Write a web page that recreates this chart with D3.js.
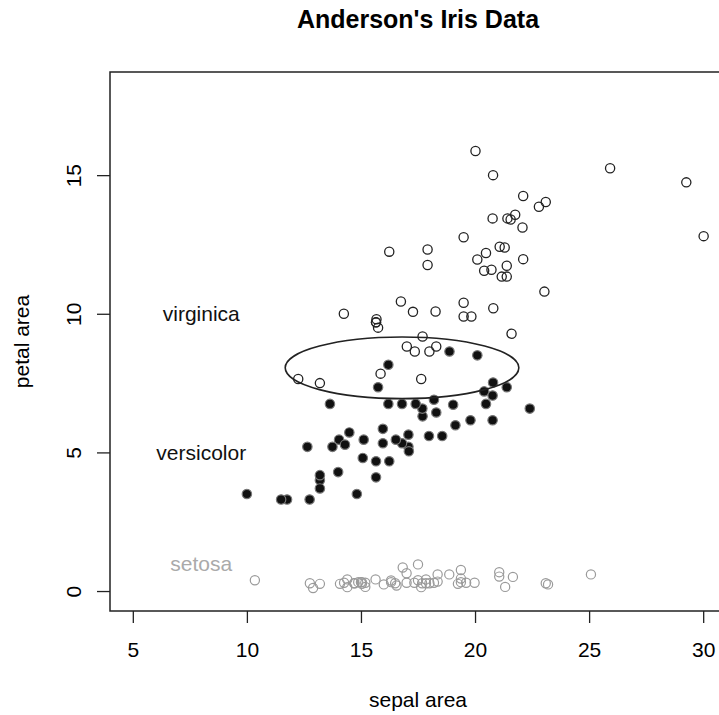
<!DOCTYPE html>
<html>
<head>
<meta charset="utf-8">
<script src="https://cdn.jsdelivr.net/npm/d3@7"></script>
<style>
  body { margin: 0; background: #fff; }
  svg text { font-family: "Liberation Sans", Arial, Helvetica, sans-serif; }
</style>
</head>
<body>
<div id="scatterPlot"></div>
<script>

// sepal area = sepal length * width, petal area = petal length * width
var setosaSepal = [17.85,14.70,15.04,14.26,18.00,21.06,15.64,17.00,12.76,15.19,
  19.98,16.32,14.40,12.90,23.20,25.08,21.06,17.85,21.66,19.38,
  18.36,18.87,16.56,16.83,16.32,15.00,17.00,18.20,17.68,15.04,
  14.88,18.36,21.32,23.10,15.19,16.00,19.25,17.64,13.20,17.34,
  17.50,10.35,14.08,17.50,19.38,14.40,19.38,14.72,19.61,16.50];
var setosaPetal = [0.28,0.28,0.26,0.30,0.28,0.68,0.42,0.30,0.28,0.15,
  0.30,0.32,0.14,0.11,0.24,0.60,0.52,0.42,0.51,0.45,
  0.34,0.60,0.20,0.85,0.38,0.32,0.64,0.30,0.28,0.32,
  0.32,0.60,0.15,0.28,0.30,0.24,0.26,0.14,0.26,0.30,
  0.39,0.39,0.26,0.96,0.76,0.42,0.32,0.28,0.30,0.28];

var versicolorSepal = [22.40,20.48,21.39,12.65,18.20,15.96,20.79,11.76,19.14,14.04,
  10.00,17.70,13.20,17.69,16.24,20.77,16.80,15.66,13.64,14.00,
  18.88,17.08,15.75,17.08,18.56,19.80,19.04,20.10,17.40,14.82,
  13.20,13.20,15.66,16.20,16.20,20.40,20.77,14.49,16.80,13.75,
  14.30,18.30,15.08,11.50,15.12,17.10,16.53,17.98,12.75,15.96];
var versicolorPetal = [6.58,6.75,7.35,5.20,6.90,5.85,7.52,3.30,5.98,5.46,
  3.50,6.30,4.00,6.58,4.68,6.16,6.75,4.10,6.75,4.29,
  8.64,5.20,7.35,5.64,5.59,6.16,6.72,8.50,6.75,3.50,
  4.18,3.70,4.68,8.16,6.75,7.20,7.05,5.72,5.33,5.20,
  5.28,6.44,4.80,3.30,5.46,5.04,5.46,5.59,3.30,5.33];

var virginicaSepal = [20.79,15.66,21.30,18.27,19.50,22.80,12.25,21.17,16.75,25.92,
  20.80,17.28,20.40,14.25,16.24,20.48,19.50,29.26,20.02,13.20,
  22.08,15.68,21.56,17.01,22.11,23.04,17.36,18.30,17.92,21.60,
  20.72,30.02,17.92,17.64,15.86,23.10,21.42,19.84,18.00,21.39,
  20.77,21.39,15.66,21.76,22.11,20.10,15.75,19.50,21.08,17.70];
var virginicaPetal = [15.00,9.69,12.39,10.08,12.76,13.86,7.65,11.34,10.44,15.25,
  10.20,10.07,11.55,10.00,12.24,12.19,9.90,14.74,15.87,7.50,
  13.11,9.80,13.40,8.82,11.97,10.80,8.64,8.82,11.76,9.28,
  11.59,12.80,12.32,7.65,7.84,14.03,13.44,9.90,8.64,11.34,
  13.44,11.73,9.69,13.57,14.25,11.96,9.50,10.40,12.42,9.18];

var xTicks = [5, 10, 15, 20, 25, 30];
var yTicks = [0, 5, 10, 15];

var speciesNames = ["virginica", "versicolor", "setosa"];
var labelX = [8, 8, 8];
var labelY = [10, 5, 1];

// overlap region: centre, half width, half height (data units)
var ellipseCentre = [16.8, 8.05];
var ellipseRadii = [5.12, 1.11];

var margin = {top: 72, right: -7, bottom: 104, left: 110},
    width = 719 - margin.left - margin.right,
    height = 715 - margin.top - margin.bottom;

var svg = d3.select("#scatterPlot")
  .append("svg")
    .attr("width", 719)
    .attr("height", 715);

var plot = svg.append("g")
    .attr("transform", "translate(" + margin.left + "," + margin.top + ")");

var x = d3.scaleLinear()
    .domain([4, 31])
    .range([0, width]);

var y = d3.scaleLinear()
    .domain([-0.72, 18.72])
    .range([height, 0]);

// axes, R style: ticks outside, no domain line (box drawn separately)
var xAxis = plot.append("g")
    .attr("transform", "translate(0," + height + ")")
    .call(d3.axisBottom(x).tickValues(xTicks).tickSize(12).tickPadding(10));
xAxis.select(".domain").remove();
xAxis.selectAll("line").attr("stroke", "#222").attr("stroke-width", 1.3);
xAxis.selectAll("text")
    .attr("font-size", 21)
    .attr("fill", "#000")
    .attr("dy", null)
    .attr("y", 46);

var yAxis = plot.append("g")
    .call(d3.axisLeft(y).tickValues(yTicks).tickSize(13));
yAxis.select(".domain").remove();
yAxis.selectAll("line").attr("stroke", "#222").attr("stroke-width", 1.3);
yAxis.selectAll("text")
    .attr("font-size", 21)
    .attr("fill", "#000")
    .attr("x", null)
    .attr("dy", null)
    .attr("text-anchor", "middle")
    .attr("transform", "translate(-29,0) rotate(-90)");

plot.append("rect")
    .attr("x", 0)
    .attr("y", 0)
    .attr("width", width)
    .attr("height", height)
    .attr("fill", "none")
    .attr("stroke", "#222")
    .attr("stroke-width", 1.5);

// setosa
plot.append("g")
  .selectAll("circle")
  .data(setosaSepal)
  .enter()
  .append("circle")
    .attr("cx", function (d) { return x(d); })
    .attr("cy", function (d, i) { return y(setosaPetal[i]); })
    .attr("r", 4.6)
    .style("fill", "none")
    .style("stroke", "#9a9a9a")
    .style("stroke-width", 1.2);

// versicolor
plot.append("g")
  .selectAll("circle")
  .data(versicolorSepal)
  .enter()
  .append("circle")
    .attr("cx", function (d) { return x(d); })
    .attr("cy", function (d, i) { return y(versicolorPetal[i]); })
    .attr("r", 4.7)
    .style("fill", "#111")
    .style("stroke", "#777")
    .style("stroke-width", 1.2);

// virginica
plot.append("g")
  .selectAll("circle")
  .data(virginicaSepal)
  .enter()
  .append("circle")
    .attr("cx", function (d) { return x(d); })
    .attr("cy", function (d, i) { return y(virginicaPetal[i]); })
    .attr("r", 4.6)
    .style("fill", "none")
    .style("stroke", "#222")
    .style("stroke-width", 1.3);

plot.append("ellipse")
    .attr("cx", x(ellipseCentre[0]))
    .attr("cy", y(ellipseCentre[1]))
    .attr("rx", x(ellipseCentre[0] + ellipseRadii[0]) - x(ellipseCentre[0]))
    .attr("ry", y(ellipseCentre[1]) - y(ellipseCentre[1] + ellipseRadii[1]))
    .attr("fill", "none")
    .attr("stroke", "#222")
    .attr("stroke-width", 1.6);

plot.append("g")
  .selectAll("text")
  .data(speciesNames)
  .enter()
  .append("text")
    .text(function (d) { return d; })
    .attr("x", function (d, i) { return x(labelX[i]); })
    .attr("y", function (d, i) { return y(labelY[i]); })
    .attr("dy", "0.35em")
    .attr("text-anchor", "middle")
    .attr("font-size", 21)
    .attr("fill", function (d) { return d == "setosa" ? "#aaa" : "#111"; });

var labels = svg.append("g")
    .classed("labels", true);

labels.append("text")
    .text("Anderson's Iris Data")
    .attr("text-anchor", "middle")
    .attr("font-size", 25)
    .attr("font-weight", "bold")
    .attr("x", margin.left + width / 2)
    .attr("y", 28);

labels.append("text")
    .text("sepal area")
    .attr("text-anchor", "middle")
    .attr("font-size", 21)
    .attr("x", margin.left + width / 2)
    .attr("y", 707);

labels.append("g")
    .attr("transform", "translate(29," + (margin.top + height / 2) + ")")
  .append("text")
    .text("petal area")
    .attr("text-anchor", "middle")
    .attr("font-size", 21)
    .attr("transform", "rotate(-90)");

</script>
</body>
</html>
